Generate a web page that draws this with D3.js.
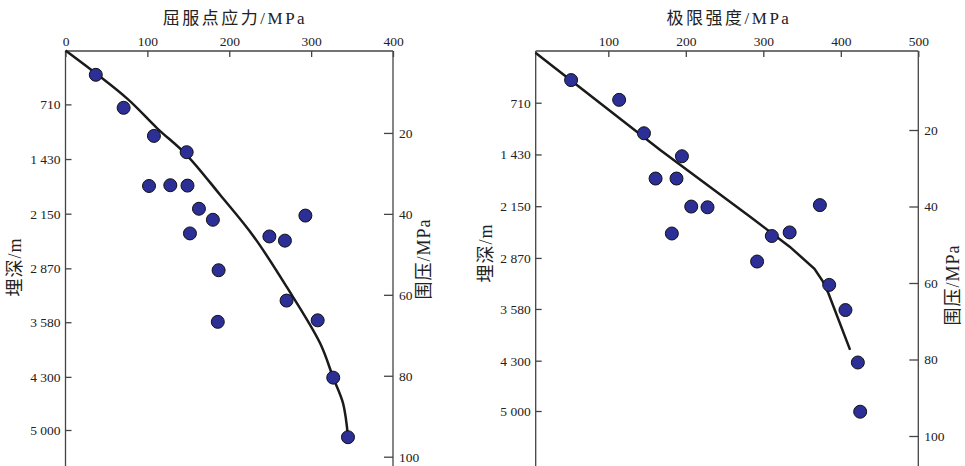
<!DOCTYPE html>
<html>
<head>
<meta charset="utf-8">
<script src="https://cdn.jsdelivr.net/npm/d3@7"></script>
<style>
  body { margin: 0; background: #fff; }
  svg text { font-family: "Liberation Serif", "Times New Roman", "DejaVu Serif", "Noto Sans CJK SC", serif; }
  .ejes text { font-size: 13.5px; fill: #222; }
  .ejes line { stroke: #444; stroke-width: 1.3; }
  .ejes .domain { display: none; }
  .marco { stroke: #444; stroke-width: 1.3; }
  .titulo { font-size: 17px; fill: #222; letter-spacing: 2.5px; }
  .labels { font-size: 18px; fill: #222; letter-spacing: 1px; }
</style>
</head>
<body>
<div id="graf"></div>
<script>
// 屈服点应力 (left chart)
const yieldStress = [37, 71, 108, 148, 102, 128, 149, 163, 180, 152, 293, 249, 268, 187, 270, 186, 308, 327, 345]
const yieldDepth = [320, 755, 1125, 1340, 1785, 1775, 1780, 2085, 2230, 2410, 2175, 2450, 2505, 2895, 3295, 3575, 3555, 4310, 5095]
const yieldFitStress = [0, 75, 112, 148, 189, 230, 270, 311, 327, 339, 345]
const yieldFitDepth = [0, 630, 1025, 1377, 1904, 2453, 3112, 3858, 4311, 4648, 5088]

// 极限强度 (right chart)
const ultStrength = [52, 114, 146, 195, 161, 188, 207, 228, 373, 182, 311, 334, 292, 385, 406, 422, 425]
const ultDepth = [395, 670, 1135, 1455, 1765, 1765, 2155, 2165, 2135, 2530, 2565, 2515, 2920, 3245, 3595, 4325, 5010]
const ultFitStrength = [6, 167, 283, 334, 366, 377, 384, 412]
const ultFitDepth = [15, 1368, 2296, 2713, 3020, 3200, 3362, 4150]

// ticks
const depthTicks = [710, 1430, 2150, 2870, 3580, 4300, 5000]
const depthLabels = ["710", "1 430", "2 150", "2 870", "3 580", "4 300", "5 000"]
const pressTicks = [20, 40, 60, 80, 100]
const yieldTicks = [0, 100, 200, 300, 400]
const ultTicks = [100, 200, 300, 400, 500]

const anchoTotal = 965
const altoTotal = 466

const svg = d3.select("#graf")
  .append("svg")
  .attr("width", anchoTotal)
  .attr("height", altoTotal)

const panels = [
  {
    title: "屈服点应力/MPa", titleX: 235,
    xs: yieldStress, ys: yieldDepth, fx: yieldFitStress, fy: yieldFitDepth,
    xTicks: yieldTicks, xDom: [0, 400], xRange: [65.5, 393],
    left: 65.5, right: 393, top: 51,
    yRange: [50.5, 430], pRange: [52, 456.7],
    yLabel: [15, 267], pLabel: [424, 259],
    curva: d3.curveCatmullRom.alpha(0.5)
  },
  {
    title: "极限强度/MPa", titleX: 729,
    xs: ultStrength, ys: ultDepth, fx: ultFitStrength, fy: ultFitDepth,
    xTicks: ultTicks, xDom: [0, 500], xRange: [530.8, 918.3],
    left: 535.7, right: 918.3, top: 51,
    yRange: [51.7, 411], pRange: [53.5, 436],
    yLabel: [486, 253], pLabel: [953, 285],
    curva: d3.curveLinear
  }
]

panels.forEach((p) => {
  const x = d3.scaleLinear().domain(p.xDom).range(p.xRange)
  const y = d3.scaleLinear().domain([0, 5000]).range(p.yRange)
  const pr = d3.scaleLinear().domain([0, 100]).range(p.pRange)

  const g = svg.append("g")

  // marco
  g.append("line").attr("class", "marco")
    .attr("x1", p.left).attr("x2", p.right).attr("y1", p.top).attr("y2", p.top)
  g.append("line").attr("class", "marco")
    .attr("x1", p.left).attr("x2", p.left).attr("y1", p.top).attr("y2", altoTotal)
  g.append("line").attr("class", "marco")
    .attr("x1", p.right).attr("x2", p.right).attr("y1", p.top).attr("y2", altoTotal)

  g.append("g")
    .attr("class", "ejes")
    .attr("transform", `translate(0, ${p.top})`)
    .call(d3.axisTop(x).tickValues(p.xTicks).tickSize(-6).tickPadding(5).tickFormat(d3.format("d")))

  g.append("g")
    .attr("class", "ejes")
    .attr("transform", `translate(${p.left}, 0)`)
    .call(d3.axisLeft(y).tickValues(depthTicks).tickSize(-6).tickPadding(5)
      .tickFormat((d, i) => depthLabels[i]))

  g.append("g")
    .attr("class", "ejes")
    .attr("transform", `translate(${p.right}, 0)`)
    .call(d3.axisRight(pr).tickValues(pressTicks).tickSize(-9).tickPadding(6))

  g.append("text")
    .attr("class", "titulo")
    .attr("x", p.titleX)
    .attr("y", 24)
    .attr("text-anchor", "middle")
    .text(p.title)

  g.append("text")
    .attr("class", "labels")
    .attr("transform", `translate(${p.yLabel[0]}, ${p.yLabel[1]}) rotate(-90)`)
    .attr("text-anchor", "middle")
    .attr("dominant-baseline", "central")
    .text("埋深/m")

  g.append("text")
    .attr("class", "labels")
    .attr("transform", `translate(${p.pLabel[0]}, ${p.pLabel[1]}) rotate(-90)`)
    .attr("text-anchor", "middle")
    .attr("dominant-baseline", "central")
    .text("围压/MPa")

  const fit = p.fx.map((v, i) => [v, p.fy[i]])
  const linea = d3.line()
    .x((d) => x(d[0]))
    .y((d) => y(d[1]))
    .curve(p.curva)

  g.append("path")
    .datum(fit)
    .attr("d", linea)
    .attr("fill", "none")
    .attr("stroke", "#1a1a1a")
    .attr("stroke-width", 2.5)

  const pts = p.xs.map((v, i) => ({ v: v, d: p.ys[i] }))
  g.selectAll("circle")
    .data(pts)
    .enter()
    .append("circle")
    .attr("cx", (d) => x(d.v))
    .attr("cy", (d) => y(d.d))
    .attr("r", 6.5)
    .attr("fill", "#2b2f96")
    .attr("stroke", "#111")
    .attr("stroke-width", 1)
})
</script>
</body>
</html>
